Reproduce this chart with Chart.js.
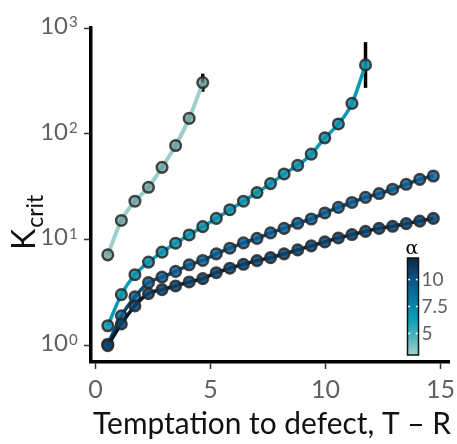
<!DOCTYPE html>
<html>
<head>
<meta charset="utf-8">
<script src="https://cdn.jsdelivr.net/npm/chart.js@4"></script>
<style>
  html, body { margin: 0; padding: 0; background: #fff; }
  #wrap { width: 457px; height: 444px; position: relative; }
</style>
</head>
<body>
<div id="wrap"><canvas id="chart"></canvas></div>
<script>
// temptation to defect, T - R
const xVals = [0.53, 1.12, 1.71, 2.30, 2.89, 3.48, 4.07, 4.66, 5.25, 5.84, 6.43, 7.02, 7.61,
  8.20, 8.79, 9.38, 9.97, 10.56, 11.15, 11.74, 12.33, 12.92, 13.51, 14.10, 14.69];

// K_crit for each alpha
const kAlpha3 = [7.2, 15.2, 23.1, 31.3, 48.3, 77.6, 140, 305];
const kAlpha6 = [1.54, 3.03, 4.67, 6.15, 7.63, 9.27, 11.1, 13.3, 15.9, 19.2, 23.1, 27.9, 33.9,
  41.8, 50.4, 64.3, 91.7, 124, 194, 448];
const kAlpha9 = [1.03, 1.91, 2.89, 3.93, 4.44, 5.02, 5.80, 6.37, 7.36, 8.32, 9.33, 10.3, 11.6,
  12.8, 14.3, 15.7, 17.9, 20.2, 22.5, 25.1, 27.3, 30.0, 33.4, 37.2, 40.0];
const kAlpha12 = [1.00, 1.60, 2.37, 3.10, 3.38, 3.66, 3.99, 4.29, 4.88, 5.38, 5.86, 6.35, 6.78,
  7.36, 8.02, 8.75, 9.54, 10.4, 11.2, 12.0, 12.8, 13.4, 14.2, 15.0, 15.9];

// error bars on the last point of the two diverging curves
const errX = [4.66, 11.74];
const errLo = [250, 272];
const errHi = [370, 736];

const xTicks = [0, 5, 10, 15];
const yTicks = [1, 10, 100, 1000];
const alphaTicks = [5, 7.5, 10];
const alphaMin = 3, alphaMax = 12;

const FONT = 'Lato, "Open Sans", sans-serif';
const TICK_COLOR = '#606060';

function pts(ys){ return ys.map((y, i) => ({ x: xVals[i], y: y })); }

function series(ys, line, fill, order, lw){
  return {
    data: pts(ys),
    borderColor: line,
    borderWidth: lw,
    pointRadius: 5.3,
    pointBorderWidth: 2.5,
    pointBorderColor: 'rgba(40,40,40,0.85)',
    pointBackgroundColor: fill,
    cubicInterpolationMode: 'monotone',
    order: order
  };
}

const errorBars = {
  id: 'errorBars',
  beforeDatasetsDraw(chart){
    const ctx = chart.ctx, xs = chart.scales.x, ys = chart.scales.y;
    ctx.save();
    ctx.strokeStyle = '#000';
    ctx.lineWidth = 3.5;
    errX.forEach((x, i) => {
      const px = xs.getPixelForValue(x);
      ctx.beginPath();
      ctx.moveTo(px, ys.getPixelForValue(errLo[i]));
      ctx.lineTo(px, ys.getPixelForValue(errHi[i]));
      ctx.stroke();
    });
    ctx.restore();
  }
};

const labels = {
  id: 'labels',
  afterDraw(chart){
    const ctx = chart.ctx, xs = chart.scales.x, ys = chart.scales.y;
    const area = chart.chartArea;
    ctx.save();

    // y tick labels 10^n
    ctx.fillStyle = TICK_COLOR;
    yTicks.forEach(v => {
      const y = ys.getPixelForValue(v);
      const right = area.left - 23;
      ctx.font = '24px ' + FONT;
      ctx.textAlign = 'right';
      ctx.textBaseline = 'middle';
      ctx.fillText('10', right, y - 2);
      ctx.font = '15px ' + FONT;
      ctx.textAlign = 'left';
      ctx.textBaseline = 'top';
      ctx.fillText(String(Math.round(Math.log10(v))), right + 1, y - 13);
    });

    // x tick labels
    ctx.font = '25px ' + FONT;
    ctx.textAlign = 'center';
    ctx.textBaseline = 'middle';
    xTicks.forEach(v => ctx.fillText(String(v), xs.getPixelForValue(v), 390));

    // x title
    ctx.fillStyle = '#111';
    const xt = 'Temptation to defect, T \u2013 R';
    ctx.font = '28px ' + FONT;
    const fs = 28 * 358 / ctx.measureText(xt).width;
    ctx.font = fs.toFixed(1) + 'px ' + FONT;
    ctx.textBaseline = 'alphabetic';
    ctx.fillText(xt, 272, 434);

    // y title K_crit
    ctx.save();
    ctx.translate(35, 250);
    ctx.rotate(-Math.PI / 2);
    ctx.textAlign = 'left';
    ctx.font = '32px ' + FONT;
    ctx.fillText('K', 0, 0);
    const kw = ctx.measureText('K').width;
    ctx.font = '23px ' + FONT;
    ctx.fillText('crit', kw + 1, 8);
    ctx.restore();

    // colour bar for alpha
    const cx = 407.5, cw = 11, top = 258, bot = 355;
    const g = ctx.createLinearGradient(0, bot, 0, top);
    g.addColorStop(0, '#9fcfcf');
    g.addColorStop(0.2, '#4db3bd');
    g.addColorStop(0.38, '#0a9db5');
    g.addColorStop(0.58, '#0a78a4');
    g.addColorStop(0.78, '#0d5487');
    g.addColorStop(1, '#0b2844');
    ctx.fillStyle = g;
    ctx.fillRect(cx, top, cw, bot - top);
    ctx.strokeStyle = '#111';
    ctx.lineWidth = 1.5;
    ctx.strokeRect(cx, top, cw, bot - top);
    ctx.font = '19px ' + FONT;
    ctx.textAlign = 'left';
    ctx.textBaseline = 'middle';
    alphaTicks.forEach(a => {
      const y = bot - (a - alphaMin) / (alphaMax - alphaMin) * (bot - top);
      ctx.fillStyle = '#fff';
      ctx.fillRect(cx + 0.8, y - 0.8, 1.8, 1.6);
      ctx.fillRect(cx + cw - 2.6, y - 0.8, 1.8, 1.6);
      ctx.fillStyle = TICK_COLOR;
      ctx.fillText(String(a), cx + cw + 3, y);
    });
    ctx.fillStyle = '#000';
    ctx.font = '19px "DejaVu Serif", serif';
    ctx.textAlign = 'center';
    ctx.textBaseline = 'middle';
    ctx.fillText('\u03b1', cx + cw / 2 - 1, 249);

    ctx.restore();
  }
};

const axisGrid = { display: true, drawOnChartArea: false, drawTicks: true, tickLength: 7, tickWidth: 1.5, tickColor: '#333' };
const axisBorder = { display: true, width: 3.5, color: '#000' };

new Chart(document.getElementById('chart'), {
  type: 'line',
  data: {
    datasets: [
      series(kAlpha3, '#9dcfcc', 'rgba(95,150,148,0.72)', 3, 4),
      series(kAlpha6, '#0a9cb4', 'rgba(10,145,170,0.85)', 2, 3.5),
      series(kAlpha9, '#0b4a72', 'rgba(10,95,150,0.85)', 1, 3.5),
      series(kAlpha12, '#06192b', 'rgba(10,70,115,0.88)', 0, 3.5)
    ]
  },
  options: {
    responsive: true,
    maintainAspectRatio: false,
    animation: false,
    layout: { padding: { top: 28, right: 7, left: 0, bottom: 0 } },
    plugins: { legend: { display: false }, tooltip: { enabled: false } },
    scales: {
      x: {
        type: 'linear', min: -0.2, max: 15.38,
        grid: axisGrid, border: axisBorder,
        ticks: { display: false },
        afterBuildTicks: s => { s.ticks = xTicks.map(v => ({ value: v })); },
        afterFit: s => { s.height = 82; }
      },
      y: {
        type: 'logarithmic', min: 0.728, max: 1000,
        grid: axisGrid, border: axisBorder,
        ticks: { display: false },
        afterBuildTicks: s => { s.ticks = yTicks.map(v => ({ value: v })); },
        afterFit: s => { s.width = 91; }
      }
    }
  },
  plugins: [errorBars, labels]
});
</script>
</body>
</html>
